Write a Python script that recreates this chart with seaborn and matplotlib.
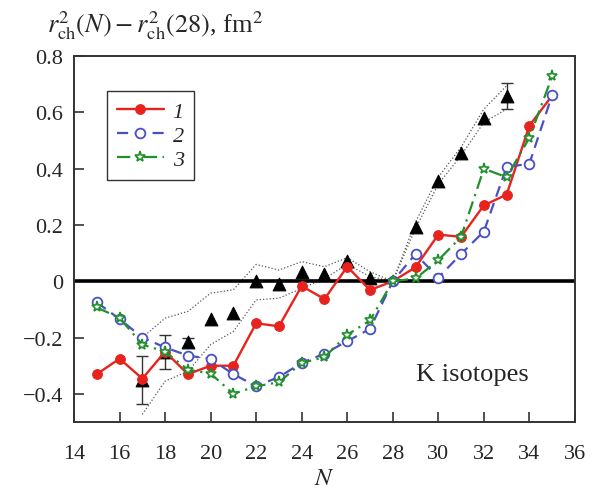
import matplotlib
matplotlib.use('Agg')
import matplotlib.pyplot as plt
import seaborn as sns
import pandas as pd
from matplotlib.ticker import FuncFormatter

# calculated curves, N = 15..35
N_calc = list(range(15, 36))
r1 = [-0.33, -0.275, -0.346, -0.25, -0.33, -0.30, -0.30, -0.149, -0.16, -0.017, -0.063,
      0.052, -0.031, 0.0, 0.05, 0.166, 0.158, 0.27, 0.308, 0.553, 0.66]
r2 = [-0.075, -0.134, -0.20, -0.235, -0.264, -0.276, -0.33, -0.373, -0.34, -0.29, -0.257,
      -0.213, -0.169, 0.0, 0.097, 0.013, 0.097, 0.177, 0.406, 0.418, 0.662]
r3 = [-0.093, -0.13, -0.225, -0.25, -0.314, -0.328, -0.40, -0.373, -0.359, -0.29, -0.27,
      -0.19, -0.139, 0.0, 0.01, 0.075, 0.158, 0.40, 0.37, 0.51, 0.728]

# experiment
N_exp = [17, 18, 19, 20, 21, 22, 23, 24, 25, 26, 27, 29, 30, 31, 32, 33]
r_exp = [-0.35, -0.25, -0.216, -0.133, -0.113, 0.0, -0.01, 0.032, 0.026, 0.073, 0.011,
         0.193, 0.357, 0.457, 0.582, 0.658]
# points that carry an error bar
N_err = [17, 18, 19, 33]
r_err_val = [-0.35, -0.25, -0.216, 0.658]
r_err = [0.085, 0.06, 0.016, 0.047]

# error band of experiment
N_band = list(range(17, 34))
band_hi = [-0.20, -0.131, -0.107, -0.042, -0.03, 0.06, 0.04, 0.07, 0.052, 0.084, 0.034,
           0.0, 0.211, 0.37, 0.477, 0.612, 0.695]
band_lo = [-0.473, -0.355, -0.32, -0.225, -0.178, -0.066, -0.06, -0.025, 0.01, 0.06, 0.017,
           0.0, 0.188, 0.345, 0.447, 0.565, 0.612]

sns.set_style('ticks')
plt.rcParams['font.family'] = ['Liberation Serif', 'DejaVu Serif']
plt.rcParams['mathtext.fontset'] = 'stix'

red = '#e8231e'
blue = '#4b4fc4'
green = '#20902c'

fig = plt.figure(figsize=(5.97, 4.89), dpi=100)
ax = fig.add_axes([0.124, 0.135, 0.839, 0.748])

ax.axhline(0, color='black', lw=2.6, zorder=2)

band = pd.DataFrame({'N': N_band, 'hi': band_hi, 'lo': band_lo})
sns.lineplot(data=band, x='N', y='hi', ax=ax, color='#555555', lw=0.9, linestyle=':', zorder=1)
sns.lineplot(data=band, x='N', y='lo', ax=ax, color='#555555', lw=0.9, linestyle=':', zorder=1)

ax.errorbar(N_err, r_err_val, yerr=r_err, fmt='none', ecolor='#333333', elinewidth=1.0,
            capsize=4, capthick=1.0, zorder=3)
exp = pd.DataFrame({'N': N_exp, 'r': r_exp})
sns.scatterplot(data=exp, x='N', y='r', ax=ax, marker='^', color='black', s=85,
                edgecolor='black', zorder=4)

calc = pd.DataFrame({'N': N_calc, 'r1': r1, 'r2': r2, 'r3': r3})
sns.lineplot(data=calc, x='N', y='r1', ax=ax, color=red, lw=1.7, marker='o', ms=7,
             mec=red, markevery=list(range(20)), label='1', zorder=5)
sns.lineplot(data=calc, x='N', y='r2', ax=ax, color=blue, lw=1.6, marker='o', ms=7,
             mfc='white', mec=blue, mew=1.3, dashes=(5, 3), label='2', zorder=6)
sns.lineplot(data=calc, x='N', y='r3', ax=ax, color=green, lw=1.6, marker='*', ms=8,
             mfc='white', mec=green, mew=1.2, dashes=(6, 2.5, 1, 2.5), label='3', zorder=7)

ax.set_xlim(14, 36)
ax.set_ylim(-0.5, 0.8)
ax.set_xticks(range(14, 37, 2))
ax.set_yticks([-0.4, -0.2, 0, 0.2, 0.4, 0.6, 0.8])
ax.yaxis.set_major_formatter(FuncFormatter(
    lambda v, p: '0' if abs(v) < 1e-9 else f'{v:.1f}'.replace('-', '\u2212')))
ax.tick_params(direction='in', length=7, width=1.2, labelsize=16, color='#333333')
ax.tick_params(axis='x', pad=16)
ax.tick_params(axis='y', pad=8)
for s in ax.spines.values():
    s.set_color('#333333')
    s.set_linewidth(1.4)

ax.set_xlabel('$N$', fontsize=18, labelpad=3)
ax.set_ylabel('')
fig.text(0.079, 0.947, r'$r^2_{\rm ch}(N) - r^2_{\rm ch}(28)$, fm$^2$', fontsize=19,
         ha='left', va='center')
ax.text(31.5, -0.33, 'K isotopes', fontsize=19, ha='center', va='center')

leg = ax.legend(loc='upper left', bbox_to_anchor=(0.066, 0.904), borderaxespad=0,
                frameon=True, fancybox=False, edgecolor='black', handlelength=2.1,
                handletextpad=0.4, borderpad=0.45, labelspacing=0.15,
                prop={'style': 'italic', 'size': 16, 'family': 'Liberation Serif'})
leg.get_frame().set_linewidth(1.0)

plt.savefig('out.png', dpi=100)
